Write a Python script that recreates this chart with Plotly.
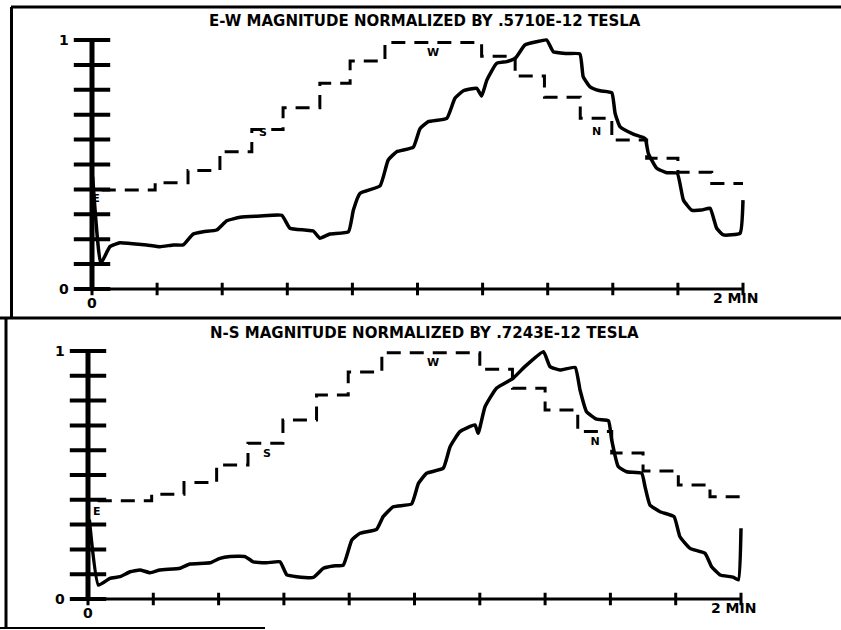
import plotly.graph_objects as go

# ---------------- data ----------------
X_TICKS = [0.0, 0.2, 0.4, 0.6, 0.8, 1.0, 1.2, 1.4, 1.6, 1.8, 2.0]
Y_TICKS = [0.0, 0.1, 0.2, 0.3, 0.4, 0.5, 0.6, 0.7, 0.8, 0.9, 1.0]

EW_TITLE = "E-W MAGNITUDE NORMALIZED BY .5710E-12 TESLA"
NS_TITLE = "N-S MAGNITUDE NORMALIZED BY .7243E-12 TESLA"

# E-W magnitude (solid)
EW_T = [0.002, 0.027, 0.055, 0.086, 0.117, 0.168, 0.209, 0.25, 0.28, 0.311, 0.342, 0.383, 0.414,
        0.455, 0.516, 0.583, 0.608, 0.654, 0.68, 0.70, 0.731, 0.788, 0.803, 0.823, 0.885, 0.910,
        0.936, 0.987, 1.008, 1.033, 1.090, 1.115, 1.141, 1.182, 1.197, 1.213, 1.243, 1.274, 1.30,
        1.33, 1.366, 1.397, 1.417, 1.458, 1.499, 1.509, 1.53, 1.561, 1.597, 1.607, 1.622, 1.663,
        1.699, 1.709, 1.735, 1.766, 1.798, 1.817, 1.842, 1.873, 1.899, 1.919, 1.94, 1.991, 2.0]
EW_V = [0.45, 0.103, 0.17, 0.186, 0.183, 0.177, 0.17, 0.177, 0.177, 0.221, 0.23, 0.237, 0.274,
        0.288, 0.293, 0.296, 0.244, 0.237, 0.233, 0.204, 0.221, 0.23, 0.317, 0.384, 0.414, 0.518,
        0.551, 0.569, 0.645, 0.672, 0.685, 0.766, 0.796, 0.806, 0.775, 0.839, 0.906, 0.913, 0.926,
        0.98, 0.993, 1.0, 0.953, 0.946, 0.944, 0.853, 0.812, 0.796, 0.788, 0.706, 0.652, 0.622,
        0.605, 0.545, 0.485, 0.467, 0.465, 0.357, 0.317, 0.317, 0.324, 0.244, 0.217, 0.224, 0.357]

# E-W direction staircase (dashed)
EW_STEP_T = [0.03, 0.194, 0.295, 0.393, 0.491, 0.587, 0.70, 0.793, 0.90, 1.197, 1.30, 1.39,
             1.50, 1.597, 1.704, 1.80, 1.904, 2.0]
EW_STEP_V = [0.398, 0.427, 0.476, 0.551, 0.641, 0.728, 0.826, 0.916, 0.99, 0.935, 0.855, 0.77,
             0.686, 0.598, 0.525, 0.469, 0.424, 0.424]

# N-S magnitude (solid)
NS_T = [0.004, 0.032, 0.067, 0.098, 0.129, 0.159, 0.19, 0.22, 0.282, 0.312, 0.374, 0.404, 0.435,
        0.481, 0.506, 0.547, 0.588, 0.609, 0.639, 0.69, 0.721, 0.751, 0.782, 0.808, 0.833, 0.884,
        0.904, 0.935, 0.991, 1.012, 1.037, 1.088, 1.109, 1.139, 1.185, 1.195, 1.216, 1.251, 1.302,
        1.338, 1.395, 1.415, 1.446, 1.492, 1.507, 1.527, 1.558, 1.594, 1.604, 1.624, 1.65, 1.696,
        1.706, 1.721, 1.752, 1.795, 1.813, 1.844, 1.89, 1.91, 1.936, 1.976, 1.992, 2.0]
NS_V = [0.32, 0.056, 0.083, 0.09, 0.11, 0.117, 0.106, 0.117, 0.124, 0.141, 0.146, 0.164, 0.171,
        0.171, 0.15, 0.146, 0.15, 0.097, 0.09, 0.087, 0.124, 0.133, 0.137, 0.238, 0.265, 0.281,
        0.332, 0.372, 0.383, 0.466, 0.507, 0.527, 0.614, 0.675, 0.702, 0.668, 0.775, 0.85, 0.89,
        0.937, 0.997, 0.937, 0.923, 0.934, 0.843, 0.755, 0.725, 0.719, 0.641, 0.534, 0.513, 0.507,
        0.453, 0.379, 0.352, 0.332, 0.251, 0.204, 0.184, 0.13, 0.097, 0.088, 0.077, 0.285]

# N-S direction staircase (dashed)
NS_STEP_T = [0.03, 0.195, 0.294, 0.394, 0.49, 0.597, 0.70, 0.797, 0.90, 1.20, 1.30, 1.40,
             1.50, 1.604, 1.70, 1.808, 1.905, 2.0]
NS_STEP_V = [0.396, 0.422, 0.47, 0.54, 0.628, 0.722, 0.823, 0.915, 0.993, 0.926, 0.85, 0.762,
             0.675, 0.589, 0.516, 0.46, 0.412, 0.412]

# direction letters on the dashed staircase
DIR_LABELS = ["E", "S", "W", "N"]
EW_LABEL_T = [0.012, 0.525, 1.048, 1.55]
EW_LABEL_V = [0.36, 0.626, 0.948, 0.63]
NS_LABEL_T = [0.027, 0.548, 1.057, 1.553]
NS_LABEL_V = [0.35, 0.585, 0.95, 0.63]

# ---------------- layout geometry (pixels) ----------------
W, H = 841, 630
XR = [-0.06, 2.06]
YR = [-0.06, 1.06]
FONT = "DejaVu Sans"
BLACK = "#000000"


def x_domain(px0, px2):
    scale = (px2 - px0) / 2.0
    return [(px0 + XR[0] * scale) / W, (px0 + XR[1] * scale) / W]


def y_domain(py0, py1):
    scale = py0 - py1
    bot = py0 - YR[0] * scale
    top = py0 - YR[1] * scale
    return [1 - bot / H, 1 - top / H]


fig = go.Figure()


def add_panel(xa, ya, t, v, st, sv, lt, lv):
    # axis lines
    fig.add_trace(go.Scatter(x=[0, 0], y=[Y_TICKS[0], Y_TICKS[-1]], mode="lines",
                             line=dict(color=BLACK, width=5), xaxis=xa, yaxis=ya, hoverinfo="skip"))
    fig.add_trace(go.Scatter(x=[X_TICKS[0], X_TICKS[-1]], y=[0, 0], mode="lines",
                             line=dict(color=BLACK, width=3), xaxis=xa, yaxis=ya, hoverinfo="skip"))
    # tick marks
    fig.add_trace(go.Scatter(x=[0] * len(Y_TICKS), y=Y_TICKS, mode="markers",
                             marker=dict(symbol="line-ew", size=26, line=dict(color=BLACK, width=4)),
                             xaxis=xa, yaxis=ya, hoverinfo="skip"))
    fig.add_trace(go.Scatter(x=X_TICKS, y=[0] * len(X_TICKS), mode="markers",
                             marker=dict(symbol="line-ns", size=9, line=dict(color=BLACK, width=3)),
                             xaxis=xa, yaxis=ya, hoverinfo="skip"))
    # dashed direction staircase
    fig.add_trace(go.Scatter(x=st, y=sv, mode="lines", line_shape="hv",
                             line=dict(color=BLACK, width=3, dash="14px,9px"),
                             xaxis=xa, yaxis=ya))
    # solid magnitude
    fig.add_trace(go.Scatter(x=t, y=v, mode="lines",
                             line=dict(color=BLACK, width=3.5, shape="spline", smoothing=0.4),
                             xaxis=xa, yaxis=ya))
    # direction letters
    fig.add_trace(go.Scatter(x=lt, y=lv, mode="text", text=DIR_LABELS,
                             textfont=dict(family=FONT, size=11, color=BLACK, weight="bold"),
                             xaxis=xa, yaxis=ya, hoverinfo="skip"))


add_panel("x", "y", EW_T, EW_V, EW_STEP_T, EW_STEP_V, EW_LABEL_T, EW_LABEL_V)
add_panel("x2", "y2", NS_T, NS_V, NS_STEP_T, NS_STEP_V, NS_LABEL_T, NS_LABEL_V)

ax_common = dict(range=XR, visible=False, fixedrange=True)
ay_common = dict(range=YR, visible=False, fixedrange=True)

fig.update_layout(
    width=W, height=H,
    margin=dict(l=0, r=0, t=0, b=0),
    paper_bgcolor="white", plot_bgcolor="rgba(0,0,0,0)",
    showlegend=False,
    hovermode=False,
    xaxis=dict(domain=x_domain(92, 743), anchor="y", **ax_common),
    yaxis=dict(domain=y_domain(289, 40), anchor="x", **ay_common),
    xaxis2=dict(domain=x_domain(88, 741), anchor="y2", **ax_common),
    yaxis2=dict(domain=y_domain(599, 351), anchor="x2", **ay_common),
)

lab = dict(family=FONT, size=14, color=BLACK, weight="bold")
ann = []
for xr, yr, title, ty in [("x", "y", EW_TITLE, 21), ("x2", "y2", NS_TITLE, 333)]:
    ann.append(dict(text=title, xref="paper", yref="paper", x=425 / W, y=1 - ty / H,
                    xanchor="center", yanchor="middle", showarrow=False,
                    font=dict(family=FONT, size=15, color=BLACK, weight="bold")))
    ann.append(dict(text=str(int(Y_TICKS[-1])), xref=xr, yref=yr, x=0, y=Y_TICKS[-1],
                    xanchor="right", yanchor="middle", xshift=-21, showarrow=False, font=lab))
    ann.append(dict(text=str(int(Y_TICKS[0])), xref=xr, yref=yr, x=0, y=Y_TICKS[0],
                    xanchor="right", yanchor="middle", xshift=-21, showarrow=False, font=lab))
    ann.append(dict(text=str(int(X_TICKS[0])), xref=xr, yref=yr, x=X_TICKS[0], y=0,
                    xanchor="center", yanchor="middle", yshift=-14, showarrow=False, font=lab))
    ann.append(dict(text="%d MIN" % int(X_TICKS[-1]), xref=xr, yref=yr, x=X_TICKS[-1], y=0,
                    xanchor="center", yanchor="middle", xshift=-8, yshift=-9, showarrow=False, font=lab))
fig.update_layout(annotations=ann)


def px_line(x0, y0, x1, y1, w=3, color=BLACK):
    return dict(type="line", xref="paper", yref="paper",
                x0=x0 / W, y0=1 - y0 / H, x1=x1 / W, y1=1 - y1 / H,
                line=dict(color=color, width=w))


fig.update_layout(shapes=[
    px_line(11, 7, 841, 7, 3),
    px_line(11.5, 7, 11.5, 318, 3),
    px_line(0, 318, 841, 318, 3),
    px_line(6, 318, 6, 628, 3),
    px_line(0, 628, 265, 628, 2),
])

fig.write_html(
    "out.html",
    config={"displayModeBar": False, "staticPlot": True},
    post_script="document.body.style.margin='0';document.body.style.overflow='hidden';",
)
